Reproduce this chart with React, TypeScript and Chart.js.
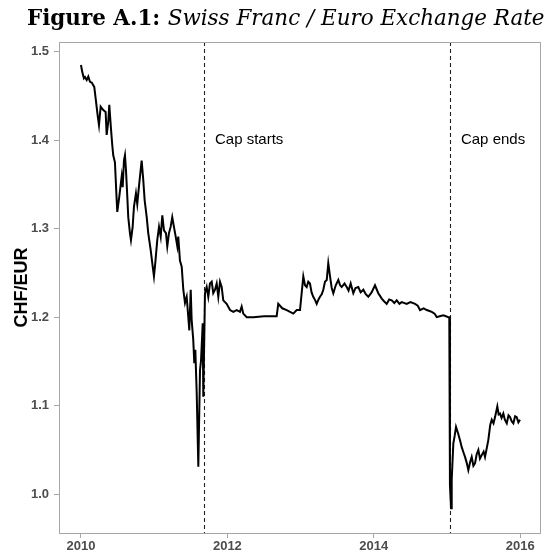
import React, { useEffect, useRef } from "react";
import { Chart, registerables } from "chart.js";
Chart.register(...registerables);

const dates = [
  2010.000, 2010.018, 2010.040, 2010.055, 2010.078, 2010.100, 2010.123, 2010.150, 2010.168, 2010.182,
  2010.201, 2010.228, 2010.246, 2010.269, 2010.305, 2010.337, 2010.351, 2010.373, 2010.387, 2010.410,
  2010.428, 2010.441, 2010.464, 2010.488, 2010.496, 2010.523, 2010.556, 2010.570, 2010.587, 2010.601,
  2010.615, 2010.633, 2010.646, 2010.669, 2010.683, 2010.706, 2010.724, 2010.751, 2010.769, 2010.796,
  2010.829, 2010.851, 2010.870, 2010.898, 2010.919, 2010.952, 2010.980, 2010.997, 2011.015, 2011.042,
  2011.066, 2011.089, 2011.111, 2011.134, 2011.161, 2011.179, 2011.202, 2011.225, 2011.247, 2011.270,
  2011.294, 2011.316, 2011.329, 2011.352, 2011.376, 2011.398, 2011.421, 2011.444, 2011.466, 2011.480,
  2011.499, 2011.512, 2011.534, 2011.548, 2011.562, 2011.581, 2011.603, 2011.626, 2011.640, 2011.663,
  2011.671, 2011.694, 2011.717, 2011.739, 2011.762, 2011.786, 2011.807, 2011.831, 2011.854, 2011.876,
  2011.899, 2011.922, 2011.944, 2011.990, 2012.036, 2012.081, 2012.127, 2012.172, 2012.195, 2012.217,
  2012.264, 2012.354, 2012.500, 2012.673, 2012.695, 2012.750, 2012.810, 2012.900, 2012.947, 2012.992,
  2013.037, 2013.060, 2013.083, 2013.105, 2013.128, 2013.150, 2013.173, 2013.200, 2013.220, 2013.245,
  2013.265, 2013.290, 2013.310, 2013.333, 2013.357, 2013.378, 2013.402, 2013.425, 2013.447, 2013.480,
  2013.515, 2013.540, 2013.561, 2013.600, 2013.630, 2013.655, 2013.684, 2013.720, 2013.750, 2013.788,
  2013.820, 2013.857, 2013.890, 2013.925, 2013.970, 2014.016, 2014.061, 2014.085, 2014.108, 2014.140,
  2014.176, 2014.210, 2014.245, 2014.280, 2014.313, 2014.350, 2014.381, 2014.449, 2014.500, 2014.563,
  2014.600, 2014.631, 2014.680, 2014.723, 2014.760, 2014.791, 2014.830, 2014.859, 2014.900, 2014.949,
  2014.985, 2015.018, 2015.031, 2015.040, 2015.055, 2015.064, 2015.086, 2015.105, 2015.123, 2015.154,
  2015.180, 2015.201, 2015.225, 2015.246, 2015.270, 2015.291, 2015.315, 2015.337, 2015.360, 2015.383,
  2015.405, 2015.428, 2015.450, 2015.474, 2015.500, 2015.519, 2015.564, 2015.590, 2015.611, 2015.635,
  2015.656, 2015.687, 2015.705, 2015.724, 2015.745, 2015.769, 2015.790, 2015.816, 2015.840, 2015.861,
  2015.885, 2015.906, 2015.930, 2015.952, 2015.975, 2015.997,
];

const rates = [
  1.485, 1.477, 1.470, 1.4715, 1.468, 1.472, 1.466, 1.465, 1.462, 1.460,
  1.447, 1.428, 1.417, 1.438, 1.434, 1.432, 1.406, 1.421, 1.440, 1.413,
  1.394, 1.383, 1.375, 1.332, 1.319, 1.336, 1.359, 1.347, 1.377, 1.383,
  1.366, 1.336, 1.313, 1.295, 1.287, 1.302, 1.325, 1.340, 1.328, 1.351,
  1.377, 1.355, 1.332, 1.313, 1.295, 1.276, 1.257, 1.246, 1.261, 1.287,
  1.302, 1.291, 1.315, 1.298, 1.295, 1.280, 1.295, 1.302, 1.313, 1.302,
  1.291, 1.280, 1.291, 1.264, 1.257, 1.231, 1.216, 1.223, 1.200, 1.185,
  1.231, 1.197, 1.174, 1.148, 1.163, 1.114, 1.031, 1.140, 1.151, 1.193,
  1.110, 1.227, 1.234, 1.223, 1.238, 1.240, 1.227, 1.231, 1.238, 1.223,
  1.240, 1.234, 1.219, 1.215, 1.208, 1.206, 1.208, 1.206, 1.212, 1.204,
  1.200, 1.200, 1.201, 1.201, 1.215, 1.210, 1.208, 1.204, 1.208, 1.208,
  1.246, 1.236, 1.234, 1.240, 1.238, 1.228, 1.223, 1.219, 1.215, 1.220,
  1.223, 1.226, 1.231, 1.240, 1.242, 1.261, 1.246, 1.233, 1.227, 1.236,
  1.242, 1.236, 1.234, 1.238, 1.234, 1.230, 1.238, 1.227, 1.233, 1.234,
  1.228, 1.231, 1.226, 1.223, 1.228, 1.236, 1.227, 1.224, 1.221, 1.218,
  1.215, 1.220, 1.219, 1.216, 1.219, 1.215, 1.217, 1.215, 1.217, 1.215,
  1.213, 1.208, 1.210, 1.208, 1.207, 1.206, 1.204, 1.200, 1.201, 1.202,
  1.201, 1.200, 1.200, 1.010, 0.984, 1.016, 1.057, 1.066, 1.076, 1.068,
  1.060, 1.053, 1.047, 1.042, 1.035, 1.027, 1.036, 1.042, 1.032, 1.035,
  1.045, 1.050, 1.040, 1.044, 1.048, 1.042, 1.061, 1.078, 1.084, 1.080,
  1.087, 1.099, 1.090, 1.091, 1.086, 1.091, 1.084, 1.080, 1.089, 1.087,
  1.082, 1.080, 1.088, 1.087, 1.081, 1.084,
];

const xTicks = [2010, 2012, 2014, 2016];
const yTicks = [1.0, 1.1, 1.2, 1.3, 1.4, 1.5];
const capEvents = [2011.68, 2015.04];
const capLabels = ["Cap starts", "Cap ends"];
const titleBold = "Figure A.1:";
const titleItalic = "Swiss Franc / Euro Exchange Rate";
const yAxisTitle = "CHF/EUR";

const decor = {
  id: "decor",
  beforeDatasetsDraw(chart: any) {
    const { ctx, chartArea: a, scales } = chart;
    ctx.save();
    ctx.strokeStyle = "#222";
    ctx.lineWidth = 1.1;
    ctx.setLineDash([4, 3]);
    capEvents.forEach((d) => {
      const x = Math.round(scales.x.getPixelForValue(d)) + 0.5;
      ctx.beginPath();
      ctx.moveTo(x, a.top);
      ctx.lineTo(x, a.bottom);
      ctx.stroke();
    });
    ctx.setLineDash([]);
    ctx.fillStyle = "#000";
    ctx.font = '15px "Liberation Sans", Arial, sans-serif';
    ctx.textBaseline = "middle";
    ctx.textAlign = "left";
    capEvents.forEach((d, i) => {
      const x = scales.x.getPixelForValue(d) + 11;
      const y = scales.y.getPixelForValue(1.4);
      ctx.fillText(capLabels[i], x, y);
    });
    ctx.restore();
  },
  afterDraw(chart: any) {
    const { ctx, chartArea: a } = chart;
    ctx.save();
    ctx.strokeStyle = "#a6a6a6";
    ctx.lineWidth = 1;
    ctx.strokeRect(Math.round(a.left) + 0.5, Math.round(a.top) + 0.5, Math.round(a.right - a.left), Math.round(a.bottom - a.top));
    // title
    const left = 27;
    const target = 518;
    const fam = '"DejaVu Serif", serif';
    let fs = 20;
    ctx.font = `bold ${fs}px ${fam}`;
    let w1 = ctx.measureText(titleBold + " ").width;
    ctx.font = `italic ${fs}px ${fam}`;
    let w2 = ctx.measureText(titleItalic).width;
    fs = fs * target / (w1 + w2);
    ctx.font = `bold ${fs}px ${fam}`;
    w1 = ctx.measureText(titleBold + " ").width;
    ctx.fillStyle = "#000";
    ctx.textBaseline = "alphabetic";
    ctx.textAlign = "left";
    ctx.fillText(titleBold, left, 25);
    ctx.font = `italic ${fs}px ${fam}`;
    ctx.fillText(titleItalic, left + w1, 25);
    // y axis title
    ctx.translate(22, (a.top + a.bottom) / 2);
    ctx.rotate(-Math.PI / 2);
    ctx.font = 'bold 18px "Liberation Sans", Arial, sans-serif';
    ctx.textAlign = "center";
    ctx.textBaseline = "middle";
    ctx.fillText(yAxisTitle, 0, 0);
    ctx.restore();
  },
};

export default function App() {
  const ref = useRef<HTMLCanvasElement>(null);
  useEffect(() => {
    if (!ref.current) return;
    const tickFont = { family: '"Liberation Sans", Arial, sans-serif', weight: "bold" as const, size: 13 };
    const chart = new Chart(ref.current, {
      type: "line",
      data: {
        datasets: [
          {
            data: dates.map((d, i) => ({ x: d, y: rates[i] })),
            borderColor: "#000",
            borderWidth: 2,
            pointRadius: 0,
            tension: 0,
            fill: false,
          },
        ],
      },
      options: {
        animation: false,
        responsive: true,
        maintainAspectRatio: false,
        layout: { padding: { left: 0, top: 42, right: 7, bottom: 0 } },
        plugins: { legend: { display: false }, tooltip: { enabled: false }, title: { display: false } },
        scales: {
          x: {
            type: "linear",
            min: 2009.7,
            max: 2016.27,
            afterBuildTicks: (s: any) => {
              s.ticks = xTicks.map((v) => ({ value: v }));
            },
            afterFit: (s: any) => {
              s.height = 19;
            },
            ticks: {
              font: tickFont,
              color: "#4d4d4d",
              padding: 1,
              maxRotation: 0,
              autoSkip: false,
              callback: (v: any) => String(v),
            },
            grid: { drawOnChartArea: false, drawTicks: true, tickLength: 5, tickColor: "#a6a6a6" },
            border: { display: false },
          },
          y: {
            type: "linear",
            min: 0.956,
            max: 1.511,
            afterBuildTicks: (s: any) => {
              s.ticks = yTicks.map((v) => ({ value: v }));
            },
            afterFit: (s: any) => {
              s.width = 59;
            },
            ticks: {
              font: tickFont,
              color: "#4d4d4d",
              padding: 5,
              autoSkip: false,
              callback: (v: any) => Number(v).toFixed(1),
            },
            grid: { drawOnChartArea: false, drawTicks: true, tickLength: 5, tickColor: "#a6a6a6" },
            border: { display: false },
          },
        },
      },
      plugins: [decor],
    });
    return () => chart.destroy();
  }, []);
  return (
    <div style={{ position: "fixed", left: 0, top: 0, width: 547, height: 552, background: "#fff" }}>
      <canvas ref={ref} />
    </div>
  );
}
